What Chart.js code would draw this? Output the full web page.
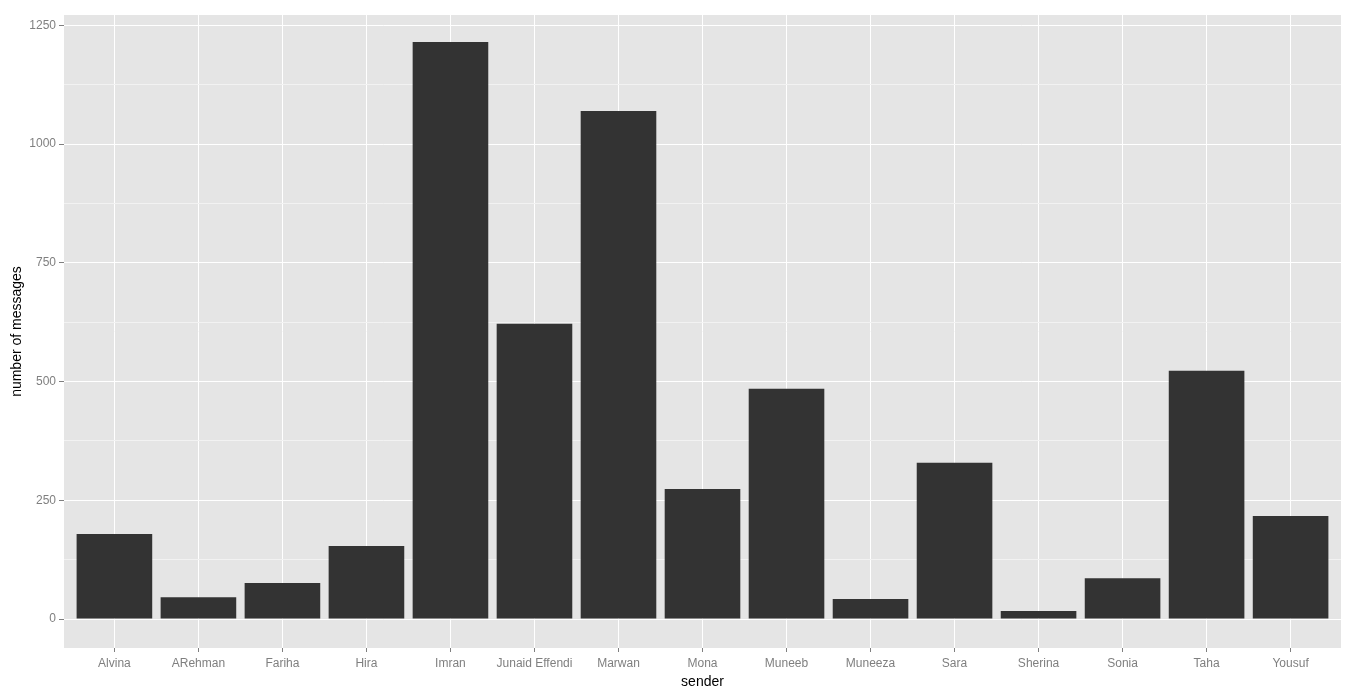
<!DOCTYPE html>
<html lang="en">
<head>
    <meta charset="UTF-8">
    <title>Messages per sender</title>
    <script src="https://cdn.jsdelivr.net/npm/chart.js"></script>
    <style>
        html, body {
            margin: 0;
            padding: 0;
            background: #ffffff;
        }
        #wrap {
            width: 1361px;
            height: 699px;
        }
    </style>
</head>
<body>
    <div id="wrap"><canvas id="chart"></canvas></div>

    <script>
        // data
        const senders = ['Alvina', 'ARehman', 'Fariha', 'Hira', 'Imran', 'Junaid Effendi', 'Marwan', 'Mona',
            'Muneeb', 'Muneeza', 'Sara', 'Sherina', 'Sonia', 'Taha', 'Yousuf'];
        const messageCounts = [179, 46, 76, 154, 1215, 622, 1070, 274, 485, 42, 329, 17, 86, 523, 217];
        const yTicks = [0, 125, 250, 375, 500, 625, 750, 875, 1000, 1125, 1250];
        const yLabelled = [0, 250, 500, 750, 1000, 1250];

        const greyText = '#7f7f7f';
        const font = "Arial, 'Liberation Sans', sans-serif";

        // grey panel behind the plot, like ggplot
        const panelBg = {
            id: 'panelBg',
            beforeDraw(chart) {
                const a = chart.chartArea;
                const ctx = chart.ctx;
                ctx.save();
                ctx.fillStyle = '#e5e5e5';
                ctx.fillRect(a.left, a.top, a.right - a.left, a.bottom - a.top);
                ctx.restore();
            }
        };

        const isMajor = v => yLabelled.includes(v);

        new Chart(document.getElementById('chart'), {
            type: 'bar',
            data: {
                datasets: [{
                    label: 'number of messages',
                    data: messageCounts.map((v, i) => ({ x: i, y: v })),
                    backgroundColor: '#333333',
                    borderWidth: 0,
                    categoryPercentage: 0.9,
                    barPercentage: 1.0
                }]
            },
            options: {
                responsive: true,
                maintainAspectRatio: false,
                animation: false,
                layout: { padding: { left: 9, top: 15, right: 20, bottom: 8 } },
                plugins: {
                    legend: { display: false },
                    tooltip: { enabled: false }
                },
                scales: {
                    x: {
                        type: 'linear',
                        offset: false,
                        min: -0.6,
                        max: senders.length - 0.4,
                        afterBuildTicks(scale) {
                            scale.ticks = senders.map((s, i) => ({ value: i }));
                        },
                        afterFit(scale) { scale.height = 43; },
                        border: { display: false },
                        grid: {
                            offset: false,
                            color: '#ffffff',
                            lineWidth: 1,
                            drawTicks: true,
                            tickLength: 4,
                            tickColor: greyText
                        },
                        ticks: {
                            autoSkip: false,
                            maxRotation: 0,
                            padding: 4,
                            color: greyText,
                            font: { family: font, size: 12 },
                            callback: v => senders[v]
                        },
                        title: {
                            display: true,
                            text: 'sender',
                            color: '#000000',
                            padding: { top: 0, bottom: 0 },
                            font: { family: font, size: 14 }
                        }
                    },
                    y: {
                        min: -61,
                        max: 1272,
                        afterBuildTicks(scale) {
                            scale.ticks = yTicks.map(v => ({ value: v }));
                        },
                        afterFit(scale) { scale.width = 55; },
                        border: { display: false },
                        grid: {
                            color: ctx => isMajor(ctx.tick.value) ? '#ffffff' : '#f2f2f2',
                            lineWidth: 1,
                            tickLength: 5,
                            tickColor: ctx => isMajor(ctx.tick.value) ? greyText : 'rgba(0,0,0,0)'
                        },
                        ticks: {
                            padding: 3,
                            color: greyText,
                            font: { family: font, size: 12 },
                            callback: v => isMajor(v) ? String(v) : ''
                        },
                        title: {
                            display: true,
                            text: 'number of messages',
                            color: '#000000',
                            padding: { top: 0, bottom: 2 },
                            font: { family: font, size: 14 }
                        }
                    }
                }
            },
            plugins: [panelBg]
        });
    </script>
</body>
</html>
